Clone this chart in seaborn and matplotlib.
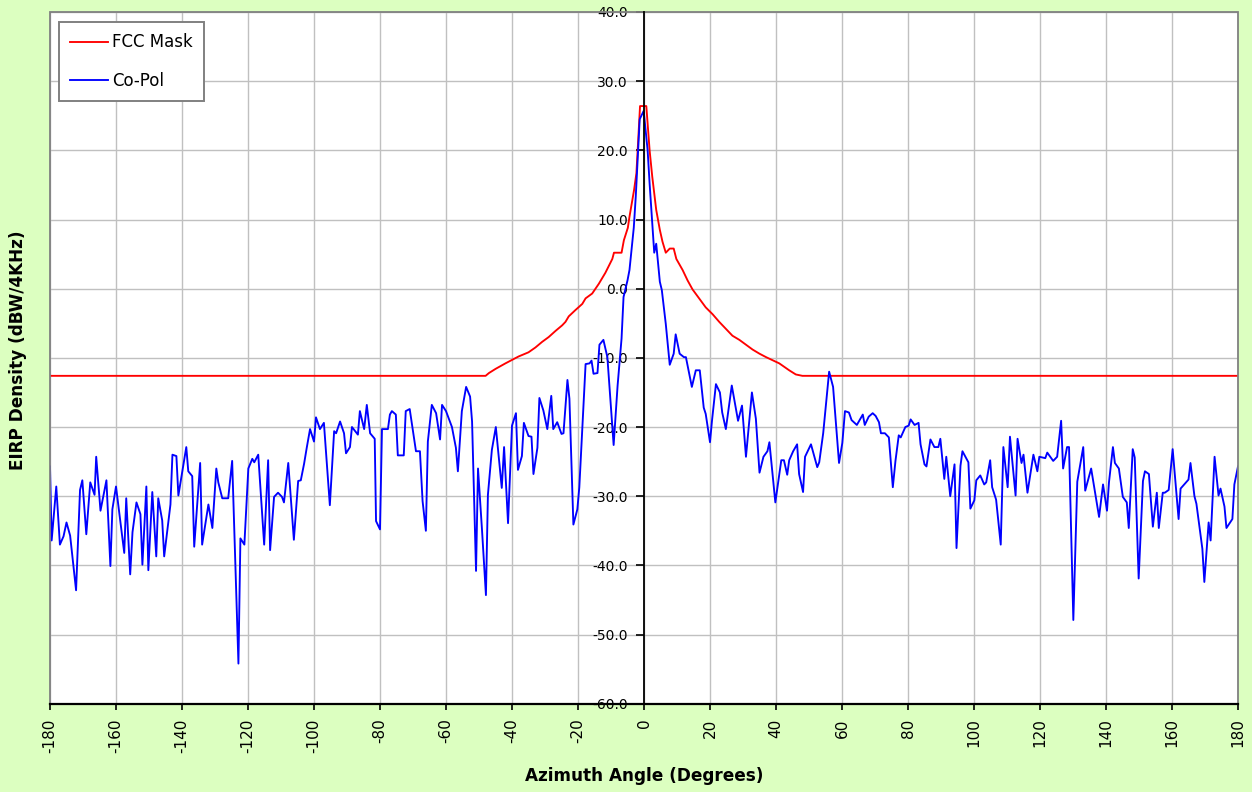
import matplotlib
matplotlib.use("Agg")
import matplotlib.pyplot as plt
import seaborn as sns
import pandas as pd
from matplotlib.patches import Rectangle

plt.rcParams['axes.unicode_minus'] = False
plt.rcParams['font.family'] = ['DejaVu Sans']

# ---------------- data ----------------
fcc_angle = [-180, -48, -47, -45, -42, -40, -38, -35, -32.9, -30.9, -28.9, -26.8, -24.8,
             -23.8, -22.8, -20.8, -18.7, -17.7, -15.7, -13.7, -11.7, -9.6, -9.1, -6.8,
             -6.1, -4.9, -4.4, -3.0, -2.3, -1.2, 0.7, 1.7, 2.5, 3.7, 4.8, 5.6, 6.6, 7.8,
             9.0, 9.8, 11.7, 13.2, 14.7, 16.7, 18.7, 20.8, 22.8, 24.8, 26.8, 28.9, 30.9,
             32.9, 35, 37, 41, 44, 46, 48, 180]
fcc_value = [-12.6, -12.6, -12.2, -11.6, -10.8, -10.3, -9.8, -9.2, -8.5, -7.7, -7.0, -6.1, -5.3,
             -4.8, -4.0, -3.1, -2.2, -1.4, -0.7, 0.7, 2.3, 4.3, 5.2, 5.2,
             7.0, 8.8, 10.4, 14.3, 16.7, 26.4, 26.4, 20.0, 16.2, 11.4, 8.5, 6.8, 5.2, 5.8,
             5.8, 4.3, 2.7, 1.2, -0.1, -1.4, -2.7, -3.7, -4.8, -5.8, -6.8, -7.4, -8.1,
             -8.8, -9.4, -9.9, -10.8, -11.8, -12.4, -12.6, -12.6]

copol_angle = [
    -180, -179.5, -178.1, -177, -175.9, -175, -173.9, -172.1, -170.9, -170.2, -169, -167.8,
    -166.5, -166, -164.7, -162.9, -161.7, -161.1, -160, -157.5, -156.9, -155.7, -155, -153.8,
    -152.6, -152, -150.8, -150.2, -149, -147.8, -147.2, -146, -145.4, -143.5, -142.9, -141.7,
    -141.1, -138.7, -138.1, -136.9, -136.3, -134.5, -133.9, -132, -130.8, -129.6, -129, -127.8,
    -126, -124.8, -122.9, -122.3, -121.1, -119.9, -118.7, -118.1, -116.9, -115.1, -113.9, -113.3,
    -112.1, -110.9, -109.7, -109.1, -107.8, -106.1,
    -104.8, -104, -103, -102.2, -101.2, -100, -99.4, -98.2, -97, -95.2, -93.9, -93.3,
    -92.1, -90.9, -90.3, -89.1, -88.5, -86.7, -86.1, -84.8, -84, -83, -81.6, -81.2,
    -80, -79.4, -77.6, -77, -76.4, -75.2, -74.6, -72.8, -72.2, -71, -69.1, -67.9,
    -67.1, -66.1, -65.5, -64.3, -63, -61.8, -61.2, -60, -58.2, -57, -56.4, -55.2,
    -53.9, -52.7, -52.1, -50.9, -50.3, -49.1, -47.9, -47.3, -46.1, -44.9, -43.1, -42.4,
    -41.2, -40, -38.8, -38.2, -37, -36.4,
    -35, -34.1, -33.5, -32.3, -31.7, -30.5, -29.3, -28.1, -27.5, -26.3, -25, -24.4,
    -23.2, -22.6, -21.4, -20.2, -19.6, -17.7, -16.5, -15.9, -15.3, -14.1, -13.5, -12.3,
    -11.1, -9.2, -8, -6.8, -6.2, -5, -4.4, -3.1, -2.5, -1.3, -0.1, 1.1,
    1.7, 3.1, 3.7, 4.8, 5.4, 6.6, 7.8, 9, 9.6, 10.8, 12.1, 12.7,
    14.5, 15.7, 16.9, 18.1, 18.7, 20, 20.6, 21.8, 23, 23.7, 24.8, 26.6,
    28.5, 29.7, 30.9, 32.7, 33.9, 35,
    36.2, 37.4, 38, 39.8, 41.6, 42.4, 43.4, 44, 45.2, 46.4, 47, 48.2,
    48.8, 50.6, 52.5, 53.1, 54.3, 56.1, 57.3, 59.1, 60.1, 60.9, 62.1, 62.9,
    64.5, 66.3, 66.9, 68.1, 69.3, 70.2, 71.2, 71.8, 73, 74.2, 75.4, 76.2,
    77.2, 77.8, 79.2, 80.2, 80.8, 82, 83.2, 83.8, 85, 85.6, 86.8, 88,
    89.2, 89.8, 91, 91.6, 92.8, 94.1, 94.7, 95.9, 96.5, 98.3, 98.9, 100.1,
    100.7, 101.9, 103.1, 103.7, 104.9, 105.5, 106.7,
    108.1, 108.9, 110.2, 110.9, 112.6, 113.2, 114.4, 115, 116.2, 118, 119.2, 119.8,
    121.6, 122.2, 124, 125.2, 126.4, 127, 128.2, 128.8, 130.1, 131.3, 133.1, 133.7,
    135.5, 137.9, 139.1, 140.3, 140.9, 142.1, 142.7, 143.9, 145.1, 146.3, 146.9, 148.1,
    148.7, 149.9, 151.2, 151.8, 153, 154.2, 155.4, 156, 157.2, 157.8, 159, 160.2,
    162, 162.6, 165, 165.6, 166.8, 167.4, 169.2, 169.8, 171.1, 171.7, 172.9, 174.1,
    174.7, 175.9, 176.5, 178.3, 178.9, 180]
copol_value = [
    -25.7, -36.4, -28.6, -37, -35.8, -33.8, -35.7, -43.6, -29.1, -27.7, -35.5, -28,
    -29.8, -24.3, -32.1, -27.7, -40.1, -31.9, -28.6, -38.2, -30.3, -41.3, -35.2, -30.9,
    -32.6, -39.9, -28.6, -40.7, -29.4, -38.7, -30.3, -33.5, -38.7, -31.2, -24, -24.2,
    -29.9, -22.9, -26.4, -27.1, -37.3, -25.2, -37, -31.2, -34.6, -26, -28, -30.3,
    -30.3, -24.9, -54.2, -36.1, -37, -26, -24.6, -25.1, -24, -37, -24.8, -37.8,
    -30.1, -29.5, -30.1, -30.9, -25.2, -36.3,
    -27.8, -27.7, -25.3, -23, -20.3, -22.1, -18.6, -20.3, -19.4, -31.3, -20.6, -20.9,
    -19.2, -20.9, -23.8, -22.9, -20, -21.1, -17.7, -20.3, -16.8, -20.9, -21.7, -33.6,
    -34.8, -20.3, -20.3, -18.2, -17.7, -18.2, -24.1, -24.1, -17.7, -17.4, -23.5, -23.5,
    -30.7, -35, -22.1, -16.8, -18, -21.8, -16.8, -17.7, -20, -23, -26.4, -17.7,
    -14.2, -15.6, -19.2, -40.8, -26, -34.8, -44.3, -29.8, -23.3, -20, -28.8, -22.9,
    -33.9, -19.8, -18, -26.2, -24.2, -19.4,
    -21.3, -21.4, -26.8, -23, -15.8, -17.6, -20.3, -15.5, -20.3, -19.3, -21, -20.9,
    -13.2, -15.9, -34.1, -31.9, -28.7, -10.9, -10.8, -10.4, -12.3, -12.2, -8.1, -7.4,
    -9.9, -22.6, -14, -7.2, -1.2, 1.2, 2.7, 8.8, 13.3, 24.5, 25.7, 20,
    15.2, 5.2, 6.5, 1, -0.2, -5.1, -11, -9.4, -6.6, -9.4, -9.9, -9.9,
    -14.2, -11.8, -11.8, -17.2, -18.1, -22.2, -19.1, -13.8, -15, -17.9, -20.3, -14,
    -19.1, -16.9, -24.3, -15, -18.8, -26.6,
    -24.3, -23.5, -22.2, -30.9, -24.8, -24.8, -26.9, -24.8, -23.5, -22.5, -26.8, -29.4,
    -24.3, -22.5, -25.8, -25.1, -20.9, -12, -14.2, -25.2, -22.3, -17.7, -17.9, -19,
    -19.7, -18.2, -19.7, -18.5, -18, -18.4, -19.3, -20.9, -20.9, -21.5, -28.7, -24.9,
    -21.2, -21.5, -20, -19.8, -18.9, -19.7, -19.4, -22.5, -25.4, -25.7, -21.8, -22.9,
    -22.9, -21.7, -27.5, -24.3, -30, -25.4, -37.5, -25.6, -23.5, -25.1, -31.8, -30.6,
    -27.7, -27, -28.3, -28, -24.8, -28.7, -30.5,
    -37, -22.9, -28.7, -21.4, -29.9, -21.7, -25.2, -24, -29.5, -24, -26.4, -24.3,
    -24.5, -23.7, -24.9, -24.3, -19.1, -26, -22.9, -22.9, -47.9, -27.9, -22.9, -29.2,
    -26, -33, -28.3, -32.1, -28, -22.9, -25.2, -26, -30.1, -30.9, -34.6, -23.2,
    -24.4, -41.9, -27.8, -26.4, -26.8, -34.4, -29.5, -34.6, -29.5, -29.5, -29.1, -23.2,
    -33.3, -28.9, -27.6, -25.2, -30, -31.1, -37.6, -42.4, -33.8, -36.4, -24.3, -29.9,
    -28.9, -31.5, -34.6, -33.3, -28.3, -25.7]

x_ticks = list(range(-180, 181, 20))
x_tick_labels = [str(t) for t in x_ticks]
y_ticks = list(range(-60, 41, 10))
y_tick_labels = ["%.1f" % t for t in y_ticks]

fcc_df = pd.DataFrame({"angle": fcc_angle, "value": fcc_value})
copol_df = pd.DataFrame({"angle": copol_angle, "value": copol_value})

# ---------------- figure ----------------
bg = "#DCFFC0"
fig = plt.figure(figsize=(12.52, 7.92), dpi=100, facecolor=bg)
ax = fig.add_axes([50 / 1252, 88.3 / 792, 1188 / 1252, 691.7 / 792])
ax.set_facecolor("white")

sns.lineplot(data=fcc_df, x="angle", y="value", ax=ax, color="#FF0000", lw=1.35,
             label="FCC Mask", estimator=None, sort=False)
sns.lineplot(data=copol_df, x="angle", y="value", ax=ax, color="#0000FF", lw=1.35,
             label="Co-Pol", estimator=None, sort=False)

ax.set_xlim(-180, 180)
ax.set_ylim(-60, 40)
ax.set_xticks(x_ticks)
ax.set_xticklabels(x_tick_labels, rotation=90, fontsize=11)
ax.set_yticks(y_ticks)
ax.set_yticklabels(y_tick_labels, fontsize=11)

ax.grid(True, color="#C0C0C0", lw=1.0)
ax.set_axisbelow(True)

# spines
ax.spines["left"].set_position(("data", 0))
ax.spines["left"].set_color("black")
ax.spines["left"].set_linewidth(1.3)
ax.spines["bottom"].set_color("black")
ax.spines["bottom"].set_linewidth(1.6)
ax.spines["top"].set_visible(False)
ax.spines["right"].set_visible(False)
frame = Rectangle((0, 0), 1, 1, transform=ax.transAxes, fill=False,
                  edgecolor="#808080", lw=1.3, zorder=2.4, clip_on=False)
ax.add_patch(frame)
ax.spines["left"].set_zorder(3)
ax.spines["bottom"].set_zorder(3)

ax.tick_params(axis="y", direction="out", length=5.5, width=1.2, pad=6, colors="black")
ax.tick_params(axis="x", direction="out", length=4.5, width=1.2, pad=6, colors="black")

ax.set_xlabel("Azimuth Angle (Degrees)", fontsize=12.2, fontweight="bold")
ax.set_ylabel("EIRP Density (dBW/4KHz)", fontsize=12.2, fontweight="bold")
ax.xaxis.set_label_coords(0.5, -0.092)
ax.yaxis.set_label_coords(-0.0269, 0.511)
ax.xaxis.label.set_va("top")
ax.yaxis.label.set_va("center")

leg = ax.legend(loc="upper left", bbox_to_anchor=(0.0073, 0.9855), borderaxespad=0,
                fontsize=12, handlelength=2.3, handletextpad=0.2, labelspacing=1.23,
                borderpad=0.68, fancybox=False, framealpha=1, edgecolor="#808080")
leg.get_frame().set_linewidth(1.4)

fig.savefig("out.png", dpi=100, facecolor=bg)
